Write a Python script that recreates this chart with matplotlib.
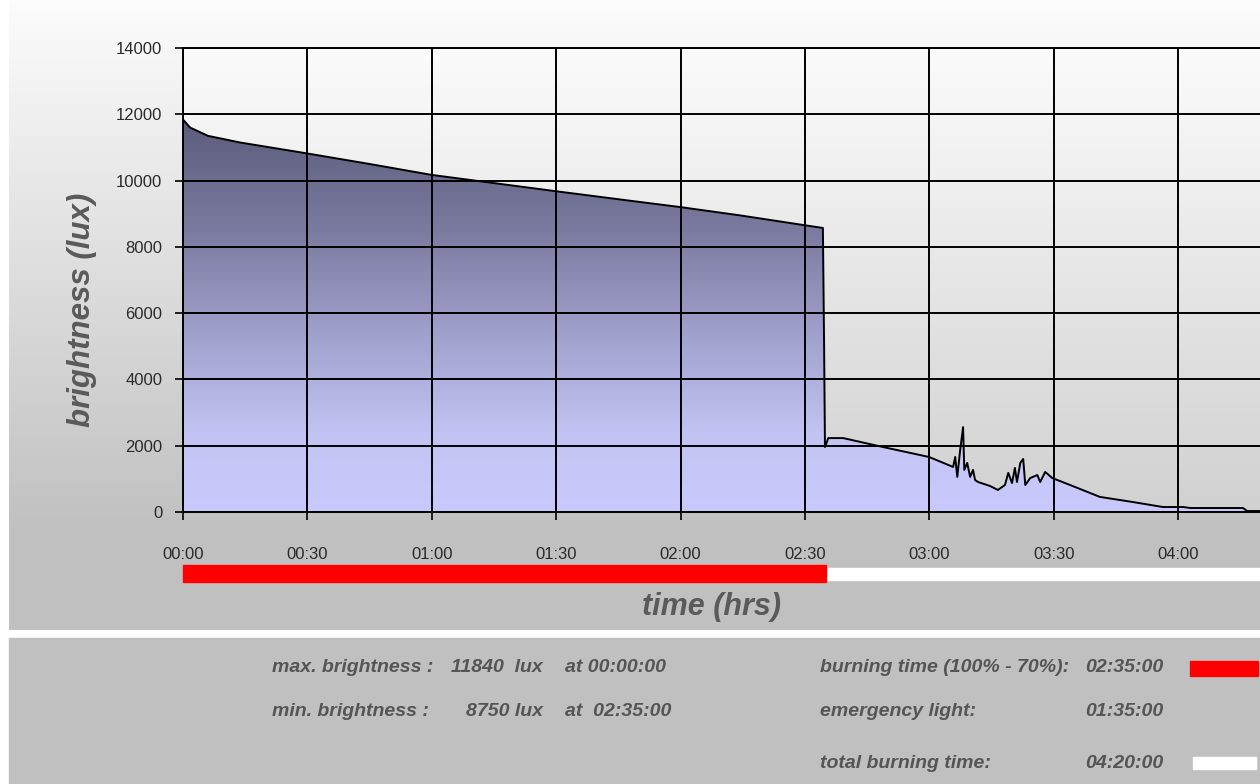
import numpy as np
import matplotlib
matplotlib.use('Agg')
from matplotlib import pyplot as plt
from matplotlib.colors import LinearSegmentedColormap
from matplotlib.patches import Rectangle
from matplotlib.transforms import blended_transform_factory

# brightness log, time in minutes since switch-on
time_min = [0, 1.7, 6, 13.7, 29.4, 45, 60, 72.8, 89.2, 105.4,
            119.9, 134.3, 149.5, 154.3, 154.6, 154.8, 155.6, 159.2, 168.8, 179.9,
            185.7, 186.2, 186.7, 187.4, 188.1, 188.4, 189.1, 189.8, 190.5, 191.0,
            191.7, 194.6, 196.5, 198.2, 199.0, 199.9, 200.6, 201.1, 201.9, 202.6,
            203.1, 204.3, 206.0, 206.7, 207.9, 209.6, 213.9, 221.1, 229.1, 236.3,
            241.2, 242.9, 255.6, 256.6, 259.7]
lux = [11840, 11600, 11350, 11150, 10830, 10500, 10170, 9960, 9690, 9430,
       9200, 8950, 8660, 8570, 4900, 1960, 2230, 2230, 1960, 1660,
       1360, 1660, 1060, 1870, 2560, 1270, 1480, 1060, 1270, 965,
       905, 785, 665, 815, 1180, 875, 1330, 905, 1480, 1600,
       815, 1025, 1115, 905, 1210, 1025, 815, 455, 300, 150,
       150, 120, 120, 30, 30]

burn_end = 155      # 02:35
total_end = 260     # 04:20
xticks = [0, 30, 60, 90, 120, 150, 180, 210, 240]
yticks = [0, 2000, 4000, 6000, 8000, 10000, 12000, 14000]

stats_left = [('max. brightness :', '11840  lux', 'at 00:00:00'),
              ('min. brightness :', '8750 lux', 'at  02:35:00')]
stats_right = [('burning time (100% - 70%):', '02:35:00'),
               ('emergency light:', '01:35:00'),
               ('total burning time:', '04:20:00')]

t = np.array(time_min)
y = np.array(lux)

W, H = 1260, 784
fig = plt.figure(figsize=(W / 100, H / 100), dpi=100)
fig.patch.set_facecolor('white')

# background panels in pixel coords
bg = fig.add_axes([0, 0, 1, 1], zorder=-5)
g = np.clip(np.linspace(0, 1, 300) / 0.85, 0, 1)
top, bot = 0.99, 0.753
col = (top + (bot - top) * g)[:, None] * np.ones((1, 3))
bg.imshow(col[:, None, :], extent=[9, W, 630, 0], aspect='auto', interpolation='bilinear')
bg.add_patch(Rectangle((9, 638), W - 9, H - 638, color='#c0c0c0'))
bg.set_xlim(0, W)
bg.set_ylim(H, 0)
bg.axis('off')

ax = fig.add_axes([183 / W, (H - 512) / H, (W - 183) / W, (512 - 48) / H])
ax.patch.set_alpha(0)
ax.set_xlim(0, 259.7)
ax.set_ylim(0, 14000)

# plot area gradient
pg = np.linspace(0.82, 0.985, 200)[:, None] * np.ones((1, 3))
ax.imshow(pg[:, None, :], extent=[0, 1, 0, 1], transform=ax.transAxes,
          aspect='auto', origin='lower', zorder=0, interpolation='bilinear')

# gradient filled area under the curve
cmap = LinearSegmentedColormap.from_list('fill', [
    (0.0, '#c9c9fd'), (0.2, '#c3c3f3'), (0.45, '#a0a0cc'),
    (0.7, '#7c7ca2'), (1.0, '#5a5a7a')])
grad = np.linspace(0, 1, 256)[:, None]
im = ax.imshow(grad, extent=[0, 259.7, 0, 12000], cmap=cmap, aspect='auto',
               origin='lower', zorder=1, interpolation='bilinear')
poly = ax.fill(np.r_[t, t[-1], t[0]], np.r_[y, 0, 0], facecolor='none', edgecolor='none')[0]
im.set_clip_path(poly)
ax.plot(t, y, color='black', lw=1.4, zorder=3)

ax.set_xticks(xticks)
ax.set_xticklabels(['%02d:%02d' % (m // 60, m % 60) for m in xticks])
ax.set_yticks(yticks)
ax.grid(True, color='black', lw=1.4, zorder=2)
ax.set_axisbelow(False)
for s in ['left', 'bottom', 'top']:
    ax.spines[s].set_linewidth(1.4)
ax.spines['right'].set_visible(False)
ax.tick_params(axis='both', direction='out', length=6, width=1.2,
               labelsize=12, labelcolor='#2a2a2a')
ax.tick_params(axis='y', pad=9)
ax.tick_params(axis='x', pad=19)
for lab in ax.get_xticklabels() + ax.get_yticklabels():
    lab.set_family('Liberation Sans')

ax.set_ylabel('brightness (lux)', fontsize=22.5, fontweight='bold', style='italic',
              color='#5a5a5a', family='Liberation Sans')
ax.yaxis.set_label_coords(-0.080, 0.435)
ax.set_xlabel('time (hrs)', fontsize=22, fontweight='bold', style='italic',
              color='#5a5a5a', family='Liberation Sans')
ax.xaxis.set_label_coords(0.491, -0.172)

# burning-time bar below the axis
tr = blended_transform_factory(ax.transData, ax.transAxes)
ax.add_patch(Rectangle((burn_end, -0.146), total_end - burn_end, 0.026, transform=tr,
                       color='white', clip_on=False, zorder=4))
ax.add_patch(Rectangle((0, -0.151), burn_end, 0.036, transform=tr,
                       color='#ff0000', clip_on=False, zorder=5))

# statistics panel
fnt = dict(family='Liberation Sans', style='italic',
           fontweight='bold', fontsize=14, color='#555555', va='center')
rows_y = [668, 712, 763]
for (a, b, c), yy in zip(stats_left, rows_y):
    bg.text(272, yy, a, **fnt)
    bg.text(543, yy, b, ha='right', **fnt)
    bg.text(565, yy, c, **fnt)
for (a, b), yy in zip(stats_right, rows_y):
    bg.text(820, yy, a, **fnt)
    bg.text(1163, yy, b, ha='right', **fnt)
bg.add_patch(Rectangle((1190, 661), 68, 15, color='#ff0000'))
bg.add_patch(Rectangle((1193, 757), 63, 12, color='white'))

fig.savefig('out.png', dpi=100)
